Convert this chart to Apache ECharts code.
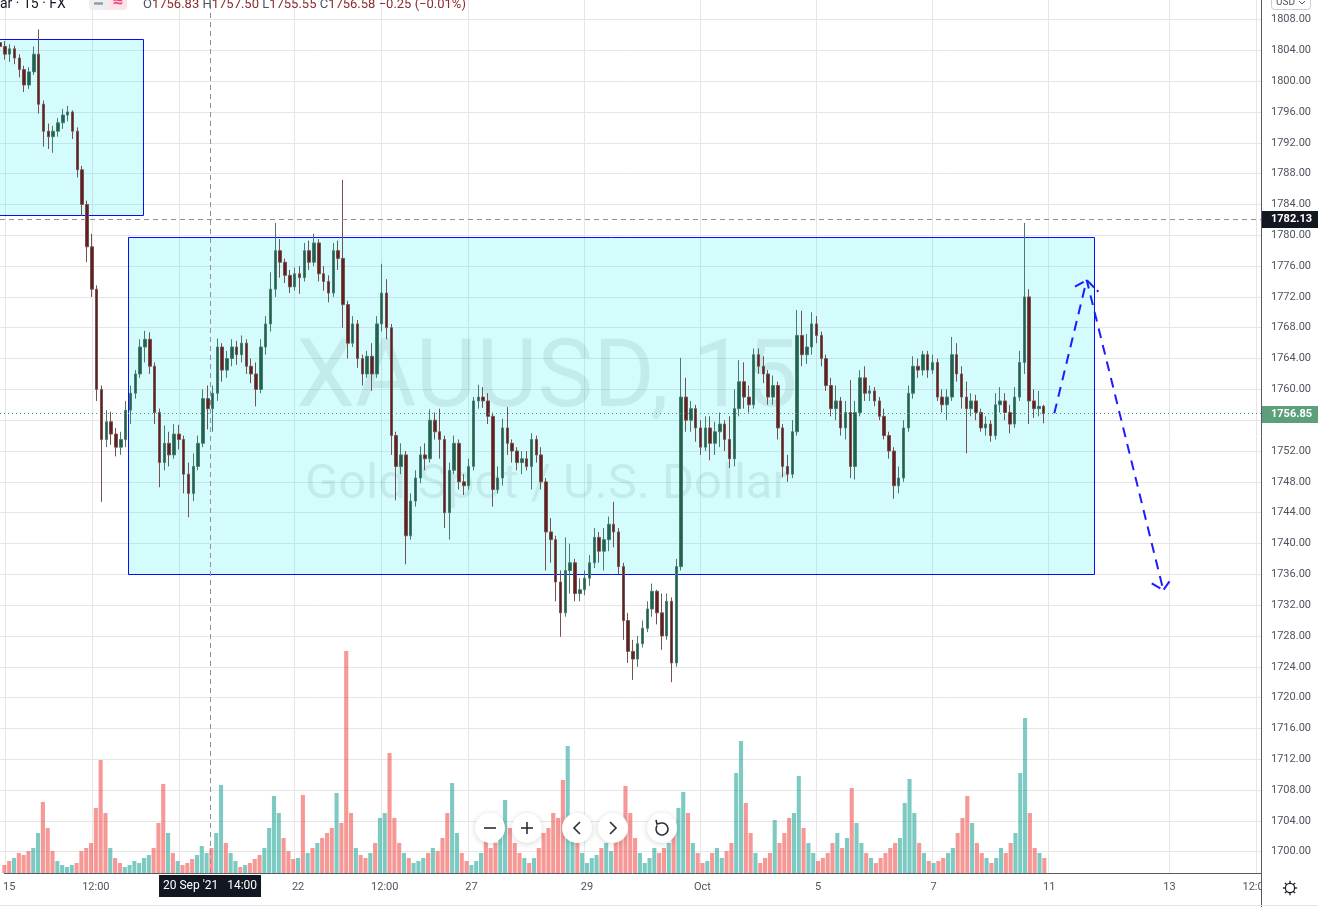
<!DOCTYPE html>
<html><head><meta charset="utf-8">
<script src="https://cdn.jsdelivr.net/npm/echarts@6/dist/echarts.min.js"></script>
<style>html,body{margin:0;padding:0;background:#fff;overflow:hidden}#c{width:1318px;height:907px}</style>
</head><body><div id="c"></div>
<script>
// ---------- DATA ----------
const sessions = [['Sep 14',1],['Sep 15',12],['Sep 16',12],['Sep 17',12],['Sep 20',12],['Sep 21',12],['Sep 22',12],['Sep 23',12],['Sep 24',12],['Sep 27',12],['Sep 28',12],['Sep 29',12],['Sep 30',12],['Oct 1',12],['Oct 4',12],['Oct 5',12],['Oct 6',12],['Oct 7',12],['Oct 8',12],['Oct 11',13],['Oct 12',12],['Oct 13',13],['Oct 14',7]];
const tickLabels = [['Sep 15 0','15'],['Sep 16 6','12:00'],['Sep 20 0','20'],['Sep 22 0','22'],['Sep 23 6','12:00'],['Sep 27 0','27'],['Sep 29 0','29'],['Oct 1 0','Oct'],['Oct 5 0','5'],['Oct 7 0','7'],['Oct 11 0','11'],['Oct 13 0','13'],['Oct 14 5','12:00']];
const priceTicks = [1700,1704,1708,1712,1716,1720,1724,1728,1732,1736,1740,1744,1748,1752,1756,1760,1764,1768,1772,1776,1780,1784,1788,1792,1796,1800,1804,1808];
const priceRange = [1697.24, 1810.53];
// [open, close, low, high]
const candles = [
[1805,1804.5,1803.8,1805.6],[1804.5,1803.5,1802.8,1805.2],[1803.5,1804.2,1802.5,1804.8],[1804.2,1803,1802.2,1804.6],[1803,1801.5,1800.5,1803.5],
[1801.5,1799.5,1798.6,1802],[1799.5,1801.2,1799,1801.8],[1801.2,1803.5,1800.8,1804.5],[1803.5,1797,1795.8,1806.7],[1797,1793.5,1791.5,1797.5],
[1793.5,1792.8,1791.2,1794.5],[1792.8,1793.5,1790.7,1794.2],[1793.5,1794.6,1792.8,1795.2],[1794.6,1795.6,1793.8,1796.4],[1795.6,1796,1794.8,1796.8],
[1796,1793.5,1792.5,1796.2],[1793.5,1788.5,1787.5,1794],[1788.5,1784,1782.5,1789],[1784,1778.5,1776.5,1784.5],[1778.5,1773,1772,1780.2],
[1773,1760,1758.5,1773.5],[1760,1753.5,1745.4,1760.5],[1753.5,1755.8,1752.5,1757.3],[1755.8,1754.2,1752.8,1757.1],[1754.2,1752.5,1751.3,1755],
[1752.5,1753.5,1751.5,1754.5],[1753.5,1757.3,1752.5,1758.5],[1757.3,1759.5,1755.5,1760.5],[1759.5,1762,1758.8,1762.5],[1762,1765.5,1761.5,1766.5],
[1765.5,1766.5,1763.5,1767.6],[1766.5,1763,1762,1767.4],[1763,1757,1755.5,1763.5],[1757,1750.5,1747.3,1757.5],[1750.5,1753,1749.5,1755.3],
[1753,1751.5,1750,1754.5],[1751.5,1754.2,1751,1755.5],[1754.2,1753.5,1752.2,1755.4],[1753.5,1749,1746.5,1754],[1749,1746.5,1743.4,1750.5],
[1746.5,1750,1745.5,1751.7],[1750,1753,1749.5,1754],[1753,1758.8,1752.5,1760],[1758.8,1757.5,1754.8,1760.5],[1757.5,1759.5,1754.5,1760.5],
[1759.5,1765.5,1758.5,1766.6],[1765.5,1762.5,1761,1766],[1762.5,1764,1761.5,1765],[1764,1765.5,1763,1766.5],[1765.5,1764.5,1763.2,1766.3],
[1764.5,1766,1763.5,1767],[1766,1763,1762,1766.5],[1763,1762,1760.8,1764],[1762,1760,1757.8,1763.5],[1760,1765.5,1759.5,1766.5],
[1765.5,1768.5,1764.5,1769.5],[1768.5,1773,1767.5,1775.2],[1773,1778,1772,1781.6],[1778,1776.5,1774.5,1779.5],[1776.5,1774.8,1773.8,1777],
[1774.8,1773.3,1772.5,1775.5],[1773.3,1775,1772.8,1775.8],[1775,1774.5,1772.4,1776],[1774.5,1778,1774,1779],[1778,1776.5,1775.5,1779.3],
[1776.5,1779,1776,1780.2],[1779,1775,1774,1779.5],[1775,1774,1772.8,1776],[1774,1772.5,1771.3,1774.8],[1772.5,1778,1772,1779],
[1778,1777,1775.5,1779.3],[1777,1771,1768,1787.2],[1771,1766,1764,1771.5],[1766,1768.5,1765.5,1769.5],[1768.5,1764,1762.8,1769],
[1764,1762,1760.5,1764.5],[1762,1764.3,1761.5,1765],[1764.3,1762,1759.8,1766],[1762,1768.5,1761.5,1769.5],[1768.5,1772.5,1767.5,1776.3],
[1772.5,1768,1766.5,1774.3],[1768,1754,1751.5,1768.5],[1754,1750,1745.6,1754.5],[1750,1751.5,1749,1753],[1751.5,1741,1737.3,1752],
[1741,1745.5,1740.5,1746.5],[1745.5,1748.5,1744.8,1749.5],[1748.5,1751.5,1747.8,1752.6],[1751.5,1751,1749.5,1753],[1751,1756,1750.5,1757.4],
[1756,1754.5,1753.5,1757],[1754.5,1753.5,1751,1757.5],[1753.5,1744,1742,1754],[1744,1749.5,1740.5,1750.5],[1749.5,1753,1749,1754],
[1753,1748,1747,1753.5],[1748,1747.5,1746.3,1749],[1747.5,1750,1747,1751],[1750,1758.5,1749.5,1759],[1758.5,1759,1757.5,1760.6],
[1759,1758.5,1757.6,1760.3],[1758.5,1756.5,1755.5,1759.5],[1756.5,1747,1744.8,1757],[1747,1748.5,1746.5,1750],[1748.5,1755,1747.5,1756.2],
[1755,1753,1751.5,1757.7],[1753,1752,1750.5,1753.5],[1752,1750.5,1749.5,1752.5],[1750.5,1751,1749,1752],[1751,1750,1749.5,1752],
[1750,1753.5,1747,1754.3],[1753.5,1751.5,1750.5,1754],[1751.5,1748,1747,1752.5],[1748,1741.5,1736.5,1748.5],[1741.5,1740.5,1737.5,1743.3],
[1740.5,1735,1732.5,1741],[1735,1731,1727.9,1736.5],[1731,1736.5,1730.5,1740.8],[1736.5,1737.5,1733.5,1740],[1737.5,1733.5,1732.5,1738],
[1733.5,1734,1732.5,1735.5],[1734,1735.5,1733.3,1736.5],[1735.5,1737.5,1734.5,1738.5],[1737.5,1740.8,1736.8,1742],[1740.8,1739,1737.5,1741.5],
[1739,1740.5,1736.5,1742],[1740.5,1742.5,1739,1743.5],[1742.5,1741.5,1739.5,1745.4],[1741.5,1737,1736,1742],[1737,1730,1727.5,1737.5],
[1730,1726,1724.5,1731],[1726,1725,1722.3,1727.5],[1725,1727,1724,1728],[1727,1729,1726.5,1730],[1729,1731.5,1728.5,1732.5],
[1731.5,1733.8,1730.5,1734.8],[1733.8,1731,1729.5,1734],[1731,1728,1726.2,1733.5],[1728,1732.5,1727.5,1733.5],[1732.5,1724.5,1722,1733],
[1724.5,1737,1724,1738],[1737,1759,1736.5,1764.1],[1759,1756,1754.5,1761.5],[1756,1757.5,1754.5,1758.5],[1757.5,1755,1753.2,1758],
[1755,1752.5,1751.5,1756],[1752.5,1755,1752,1756.5],[1755,1753,1750.8,1756.5],[1753,1754.5,1751.5,1755.8],[1754.5,1755.5,1752.5,1757],
[1755.5,1753.5,1752,1756],[1753.5,1751,1749.8,1756.5],[1751,1757.5,1750,1760],[1757.5,1761,1756.5,1763.8],[1761,1759,1757.5,1763.5],
[1759,1758,1757,1760.5],[1758,1764.5,1757.5,1765.3],[1764.5,1763,1762,1765.3],[1763,1762,1760.8,1764.3],[1762,1759,1758,1762.5],
[1759,1760.5,1758,1761.8],[1760.5,1755,1753.5,1761],[1755,1750,1748.6,1755.5],[1750,1749,1748,1751.5],[1749,1754.5,1748.5,1756],
[1754.5,1767,1754,1770.3],[1767,1764.5,1763,1770.2],[1764.5,1765.5,1763.3,1767.2],[1765.5,1768.5,1764.5,1770],[1768.5,1767,1766,1769.5],
[1767,1764,1763,1767.5],[1764,1760.5,1759.8,1764.5],[1760.5,1757.5,1756.5,1761.5],[1757.5,1758.5,1756,1760.5],[1758.5,1755,1754,1759],
[1755,1757,1753.5,1758.5],[1757,1750,1748.5,1761.2],[1750,1757,1748.3,1758.5],[1757,1761.5,1756.5,1762.5],[1761.5,1759.5,1758.5,1763],
[1759.5,1759.8,1758.5,1760.5],[1759.8,1758.5,1757.8,1760.3],[1758.5,1756.5,1756,1759],[1756.5,1754,1753.5,1757.5],[1754,1752,1751,1754.5],
[1752,1747.5,1745.8,1752.5],[1747.5,1748.5,1746.5,1750],[1748.5,1755,1748,1756],[1755,1759.5,1754.5,1760.5],[1759.5,1763,1758.8,1764.3],
[1763,1762.5,1761.5,1764],[1762.5,1764.5,1761.8,1765],[1764.5,1762.5,1761.5,1765],[1762.5,1763.5,1762,1764.5],[1763.5,1759,1758.5,1764],
[1759,1758,1757,1760],[1758,1759,1756,1760],[1759,1764.5,1758.5,1766.8],[1764.5,1762,1761,1766],[1762,1759,1757.5,1763],
[1759,1757.5,1751.7,1761],[1757.5,1758.5,1756.5,1759.5],[1758.5,1757,1756,1759.3],[1757,1755,1754.5,1757.5],[1755,1755.5,1754,1756.5],
[1755.5,1754,1753.2,1756],[1754,1758,1753.5,1759.5],[1758,1758.5,1757,1760.3],[1758.5,1757,1756,1759.5],[1757,1755.5,1754.3,1758],
[1755.5,1759,1755,1760.3],[1759,1763.5,1758.5,1765],[1763.5,1772,1762,1781.6],[1772,1758.5,1755.5,1773],[1758.5,1757.5,1756.3,1760],
[1757.5,1757.8,1756.5,1759.8],[1757.8,1756.85,1755.6,1758]
];
const volumes = [
8,
12,15,20,18,22,25,40,71,45,22,12,8,
6,8,10,22,25,30,65,113,60,25,15,10,
6,8,12,10,15,18,25,50,89,40,20,12,
8,10,14,18,27,20,25,40,88,30,20,12,
6,8,10,14,18,25,45,77,60,35,22,14,
15,78,20,25,30,35,40,45,80,50,222,60,
25,18,15,20,30,55,60,120,55,30,20,15,
10,12,15,20,25,22,35,60,90,40,20,12,
8,12,20,35,25,30,37,73,45,30,20,15,
10,15,25,40,45,60,55,93,127,50,30,20,
10,15,18,25,30,22,35,55,87,60,35,20,
10,15,25,20,25,30,40,65,81,60,30,20,
10,12,20,25,15,22,30,100,132,70,40,20,
10,15,20,53,30,40,55,60,97,45,30,20,
12,15,20,30,40,25,35,85,50,30,20,15,
10,15,20,25,30,35,70,94,60,30,20,12,
10,12,15,20,25,40,55,77,50,30,20,15,
10,15,25,20,30,40,100,155,60,25,20,15
];
// drawings: [xFrom, xTo, priceTop, priceBottom] in bar-index units
const boxes = [[-1, 29.66, 1805.43, 1782.63], [26.43, 226.37, 1779.73, 1736.0]];
const projection = [[218.22, 1756.89], [224.92, 1774.19], [240.78, 1733.96]];
const arrowHeads = [
  [[222.5, 1773.32], [224.92, 1774.19], [227.33, 1772.68]],
  [[238.38, 1734.83], [240.78, 1733.96], [242.52, 1735.48]]
];
const crosshair = {x: 43.47, price: 1782.13, label: "20 Sep '21   14:00"};
const lastPrice = 1756.85;
const headerSymbol = 'ar · 15 · FX';
const headerOHLC = [['O','1756.83'],['H','1757.50'],['L','1755.55'],['C','1756.58'],['','−0.25 (−0.01%)']];
const watermark = ['XAUUSD, 15', 'Gold Spot / U.S. Dollar'];

// ---------- CHART ----------
const categories = [];
sessions.forEach(([day, n]) => { for (let k = 0; k < n; k++) categories.push(day + ' ' + k); });
const tickMap = {};
tickLabels.forEach(([k, t]) => { tickMap[k] = t; });

const FONT = 'Roboto, "Liberation Sans", sans-serif';
const GRID = '#e6e6e9';
const AXIS = '#555963';
const TXT = '#50535e';

const chart = echarts.init(document.getElementById('c'), null, {renderer: 'canvas'});
const option = {
  animation: false,
  backgroundColor: '#ffffff',
  textStyle: {fontFamily: FONT},
  grid: [
    {left: 0, right: 57, top: 0, bottom: 34},
    {left: 0, right: 57, top: 613, bottom: 34}
  ],
  xAxis: [
    {type: 'category', gridIndex: 0, data: categories, boundaryGap: false,
     axisLine: {show: false, onZero: false}, axisTick: {show: false}, axisLabel: {show: false},
     splitLine: {show: true, interval: (i, v) => tickMap[v] !== undefined, lineStyle: {color: GRID, width: 1}}},
    {type: 'category', gridIndex: 1, data: categories, boundaryGap: false,
     axisLine: {show: true, onZero: false, lineStyle: {color: AXIS, width: 1}}, axisTick: {show: false},
     axisLabel: {show: true, interval: (i, v) => tickMap[v] !== undefined, formatter: v => tickMap[v] || '',
                 color: TXT, fontSize: 11, margin: 9, fontFamily: FONT},
     splitLine: {show: false}},
    {type: 'value', gridIndex: 0, min: 0, max: categories.length - 1, show: false,
     axisLine: {show: false, onZero: false}, splitLine: {show: false}}
  ],
  yAxis: [
    {type: 'value', gridIndex: 0, position: 'right', min: priceRange[0], max: priceRange[1], scale: true,
     axisLine: {show: true, onZero: false, lineStyle: {color: AXIS, width: 1}},
     axisTick: {show: false, customValues: priceTicks},
     axisLabel: {show: true, customValues: priceTicks, formatter: v => v.toFixed(2), color: TXT, fontSize: 11, margin: 10, fontFamily: FONT},
     splitLine: {show: true, lineStyle: {color: GRID, width: 1}}},
    {type: 'value', gridIndex: 1, min: 0, max: 260, show: false,
     axisLine: {show: false, onZero: false}, splitLine: {show: false}}
  ],
  series: [
    {type: 'custom', name: 'boxes', xAxisIndex: 2, yAxisIndex: 0, z: 1, silent: true, clip: false,
     data: boxes, encode: {x: [0, 1], y: [2, 3]},
     renderItem: (params, api) => {
       const p0 = api.coord([api.value(0), api.value(2)]);
       const p1 = api.coord([api.value(1), api.value(3)]);
       return {type: 'rect', shape: {x: Math.round(p0[0]) + 0.5, y: Math.round(p0[1]) + 0.5, width: Math.round(p1[0] - p0[0]), height: Math.round(p1[1] - p0[1])},
               style: {fill: 'rgba(0,238,238,0.17)', stroke: '#0a0aff', lineWidth: 1}};
     }},
    {type: 'bar', name: 'volume', xAxisIndex: 1, yAxisIndex: 1, z: 2, silent: true, barWidth: '85%',
     data: volumes.map((v, i) => ({value: v, itemStyle: {color: candles[i][1] >= candles[i][0] ? 'rgba(38,166,154,0.6)' : 'rgba(239,83,80,0.6)'}}))},
    {type: 'candlestick', name: 'XAUUSD', xAxisIndex: 0, yAxisIndex: 0, z: 3, silent: true, barWidth: 3,
     data: candles,
     itemStyle: {color: '#1c6450', color0: '#661f1f', borderColor: '#4b7b6f', borderColor0: '#745252', borderWidth: 1},
     markLine: {silent: true, symbol: ['none', 'none'], label: {show: false}, animation: false,
       data: [
         {yAxis: crosshair.price, lineStyle: {type: [5, 4], color: '#8e9199', width: 1}},
         {yAxis: lastPrice, lineStyle: {type: [1, 3], color: '#3f9a78', width: 1}}
       ]}},
    {type: 'line', name: 'projection', xAxisIndex: 2, yAxisIndex: 0, z: 4, silent: true, symbol: 'none',
     data: projection, lineStyle: {color: '#1c1cff', width: 2, type: [10, 7]},
     markLine: {silent: true, symbol: ['none', 'none'], label: {show: false}, animation: false,
       data: [{xAxis: crosshair.x, lineStyle: {type: [5, 4], color: '#8e9199', width: 1}}]}},
    ...arrowHeads.map(a => ({type: 'line', xAxisIndex: 2, yAxisIndex: 0, z: 4, silent: true, symbol: 'none',
       data: a, lineStyle: {color: '#1c1cff', width: 2, type: [10, 4]}}))
  ]
};
chart.setOption(option);

// ---------- OVERLAY LABELS (positions via axis scales) ----------
const yCross = chart.convertToPixel({yAxisIndex: 0}, crosshair.price);
const yLast = chart.convertToPixel({yAxisIndex: 0}, lastPrice);
const xCross = chart.convertToPixel({xAxisIndex: 2}, crosshair.x);
const xRight = chart.convertToPixel({xAxisIndex: 2}, categories.length - 1);
const yBottom = chart.convertToPixel({yAxisIndex: 0}, priceRange[0]);
const xMid = 547;

const g = [];
// watermark
g.push({type: 'text', z: 0, silent: true, x: xMid, y: 382,
  style: {text: watermark[0], font: '94px Roboto', fill: 'rgba(19,23,34,0.085)', textAlign: 'center', textVerticalAlign: 'middle'}});
g.push({type: 'text', z: 0, silent: true, x: xMid, y: 486,
  style: {text: watermark[1], font: '49px Roboto', fill: 'rgba(19,23,34,0.085)', textAlign: 'center', textVerticalAlign: 'middle'}});
// price labels
function priceBox(y, txt, bg) {
  g.push({type: 'rect', z: 100, silent: true, shape: {x: xRight + 1, y: Math.round(y) - 8, width: 1318 - xRight, height: 17, r: 0}, style: {fill: bg}});
  g.push({type: 'text', z: 101, silent: true, x: xRight + 10, y: Math.round(y) + 0.5,
    style: {text: txt, font: 'bold 11px Roboto', fill: '#ffffff', textAlign: 'left', textVerticalAlign: 'middle'}});
}
priceBox(yCross, crosshair.price.toFixed(2), '#131722');
priceBox(yLast, lastPrice.toFixed(2), '#5c9f7b');
// time label
g.push({type: 'rect', z: 100, silent: true, shape: {x: xCross - 51, y: yBottom + 2, width: 102, height: 22}, style: {fill: '#131722'}});
g.push({type: 'text', z: 101, silent: true, x: xCross, y: yBottom + 13,
  style: {text: crosshair.label, font: '12px Roboto', fill: '#ffffff', textAlign: 'center', textVerticalAlign: 'middle'}});
// bottom-right corner cover + separator
g.push({type: 'rect', z: 90, silent: true, shape: {x: xRight + 1, y: yBottom + 1, width: 60, height: 40}, style: {fill: '#ffffff'}});
g.push({type: 'line', z: 91, silent: true, shape: {x1: xRight + 0.5, y1: yBottom, x2: xRight + 0.5, y2: 907}, style: {stroke: AXIS, lineWidth: 1}});
g.push({type: 'line', z: 91, silent: true, shape: {x1: 0, y1: 905.5, x2: 1318, y2: 905.5}, style: {stroke: '#e0e3eb', lineWidth: 1}});
// gear icon
const gx = 1290, gy = 888;
g.push({type: 'circle', z: 95, silent: true, shape: {cx: gx, cy: gy, r: 4.6}, style: {fill: 'none', stroke: '#131722', lineWidth: 1.2}});
for (let k = 0; k < 8; k++) {
  const a = k * Math.PI / 4;
  g.push({type: 'line', z: 95, silent: true, shape: {x1: gx + Math.cos(a) * 4.6, y1: gy + Math.sin(a) * 4.6, x2: gx + Math.cos(a) * 7.2, y2: gy + Math.sin(a) * 7.2}, style: {stroke: '#131722', lineWidth: 1.3}});
}
// USD selector
g.push({type: 'rect', z: 95, silent: true, shape: {x: 1271.5, y: -7.5, width: 39, height: 17, r: 3}, style: {fill: '#fff', stroke: '#c9ccd4', lineWidth: 1}});
g.push({type: 'text', z: 96, silent: true, x: 1276, y: 2, style: {text: 'USD', font: '10px Roboto', fill: TXT, textVerticalAlign: 'middle'}});
g.push({type: 'polyline', z: 96, silent: true, shape: {points: [[1299, 1], [1302, 4], [1305, 1]]}, style: {stroke: TXT, lineWidth: 1, fill: 'none'}});
// header
g.push({type: 'text', z: 95, silent: true, x: 0, y: 11, style: {text: headerSymbol, font: '14px Roboto', fill: '#131722', textVerticalAlign: 'bottom'}});
g.push({type: 'rect', z: 95, silent: true, shape: {x: 89, y: -8, width: 38, height: 18, r: 4}, style: {fill: '#eceef2'}});
g.push({type: 'rect', z: 96, silent: true, shape: {x: 109, y: -8, width: 18, height: 18, r: [0, 4, 4, 0]}, style: {fill: '#fde2e7'}});
g.push({type: 'line', z: 96, silent: true, shape: {x1: 94, y1: 3.5, x2: 103, y2: 3.5}, style: {stroke: '#9598a1', lineWidth: 2.4}});
g.push({type: 'text', z: 97, silent: true, x: 118, y: 2, style: {text: '≈', font: 'bold 14px "DejaVu Sans"', fill: '#ec407a', textAlign: 'center', textVerticalAlign: 'middle'}});
const ohlcText = headerOHLC.map(([l, v]) => (l ? '{l|' + l + '}' : '') + '{v|' + v + '}').join(' ');
g.push({type: 'text', z: 95, silent: true, x: 143, y: 11,
  style: {text: ohlcText, font: '13px Roboto', textVerticalAlign: 'bottom',
          rich: {l: {fill: '#50535e', font: '13px Roboto'}, v: {fill: '#8e2b2b', font: '13px Roboto'}}}});
// bottom toolbar
const by = 828;
function btn(cx) {
  g.push({type: 'circle', z: 110, silent: true, shape: {cx: cx, cy: by, r: 15},
    style: {fill: '#ffffff', shadowBlur: 6, shadowColor: 'rgba(0,0,0,0.16)', shadowOffsetY: 1}});
}
[490, 527, 577, 613, 662].forEach(btn);
const ic = {stroke: '#2a2e39', lineWidth: 1.6, fill: 'none'};
g.push({type: 'line', z: 111, silent: true, shape: {x1: 484, y1: by, x2: 496, y2: by}, style: ic});
g.push({type: 'line', z: 111, silent: true, shape: {x1: 521, y1: by, x2: 533, y2: by}, style: ic});
g.push({type: 'line', z: 111, silent: true, shape: {x1: 527, y1: by - 6, x2: 527, y2: by + 6}, style: ic});
g.push({type: 'polyline', z: 111, silent: true, shape: {points: [[580, by - 6], [574, by], [580, by + 6]]}, style: ic});
g.push({type: 'polyline', z: 111, silent: true, shape: {points: [[610, by - 6], [616, by], [610, by + 6]]}, style: ic});
g.push({type: 'arc', z: 111, silent: true, shape: {cx: 662, cy: by + 1, r: 6, startAngle: -Math.PI * 0.55, endAngle: Math.PI * 1.2, clockwise: true}, style: ic});
g.push({type: 'polyline', z: 111, silent: true, shape: {points: [[656, by - 8], [657, by - 4], [661, by - 5]]}, style: ic});

chart.setOption({graphic: g});
</script></body></html>
